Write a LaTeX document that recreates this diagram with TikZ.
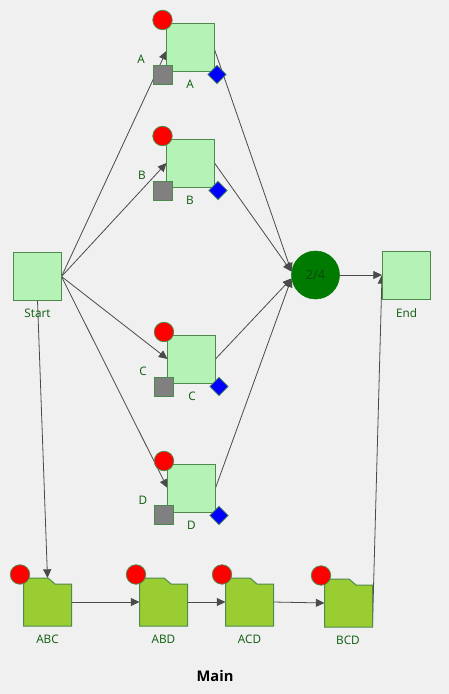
\documentclass[tikz,border=0pt]{standalone}
\usepackage{fontspec}
\setmainfont{Open Sans}
\usetikzlibrary{arrows.meta,calc,shapes.geometric}
\definecolor{bgc}{HTML}{F0F0F0}
\definecolor{boxf}{HTML}{B5F2B5}
\definecolor{bord}{HTML}{4E8A4E}
\definecolor{fold}{HTML}{9ACD32}
\definecolor{txt}{HTML}{0B5C0B}
\definecolor{edgec}{HTML}{4A4A4A}
\definecolor{gatec}{HTML}{007A00}
\definecolor{gatet}{HTML}{0B470B}
\pgfdeclarelayer{edges}
\pgfdeclarelayer{back}
\pgfsetlayers{back,edges,main}
\tikzset{
 task/.style={draw=bord,fill=boxf,line width=0.75pt,minimum size=36pt,inner sep=0pt,outer sep=0pt,rectangle},
 flabel/.style={text=txt,font=\fontsize{8.8pt}{10pt}\selectfont,inner sep=0pt},
 redc/.style={circle,draw=bord,fill=red,line width=0.6pt,minimum size=14.6pt,inner sep=0pt},
 grey/.style={draw=bord,fill=gray,line width=0.6pt,minimum size=14.4pt,inner sep=0pt,rectangle},
 blued/.style={diamond,draw=bord,fill=blue,line width=0.5pt,minimum size=14pt,inner sep=0pt,aspect=1},
 flow/.style={draw=edgec,line width=0.6pt,-{Triangle[length=6.5pt,width=6pt]}},
 folderc/.style={draw=bord,fill=fold,line width=0.75pt},
 anch/.style={minimum size=36pt,inner sep=0pt,outer sep=0pt,rectangle},
}
\newcommand{\folder}[3]{% name, cx, cy (px)
 \node[anch] (#1) at (#2,#3) {};
 \draw[folderc] ($(#1.north west)$) -- ++(24.5,0) -- ++(7,6) -- ($(#1.north east)+(0,-4.5pt)$) -- (#1.south east) -- (#1.south west) -- cycle;
}
\begin{document}
\begin{tikzpicture}[x=0.75pt,y=-0.75pt]
\begin{pgfonlayer}{back}
\fill[bgc] (0,0) rectangle (449,694);
\end{pgfonlayer}
\useasboundingbox (0,0) rectangle (449,694);

\node[task] (S) at (37.5,276.5) {};
\node[task] (E) at (406,275) {};
\node[task] (A) at (190.5,47.5) {};
\node[task] (B) at (190.5,163) {};
\node[task] (C) at (191.5,359) {};
\node[task] (D) at (191.5,488) {};
\node[circle,draw=gatec,fill=gatec,line width=0.4pt,minimum size=36pt,inner sep=0pt,text=gatet,font=\fontsize{9.5pt}{11pt}\selectfont] (G) at (315.5,275) {2/4};

\folder{ABC}{47.5}{602}
\folder{ABD}{163.5}{602}
\folder{ACD}{249.5}{602}
\folder{BCD}{348.5}{603}

\foreach \n/\x/\y in {rA/162.5/20,rB/162.5/136,rC/164/332,rD/164/461,rE/20/574.5,rF/136/574.5,rG/222/574.5,rH/321/575.5}
  \node[redc] (\n) at (\x,\y) {};
\foreach \n/\x/\y in {gA/163/74.5,gB/163/190.5,gC/164/386.5,gD/164/515}
  \node[grey] (\n) at (\x,\y) {};
\node[blued] (dA) at (217,74.5) {};
\node[blued] (dB) at (218,190.5) {};
\node[blued] (dC) at (219,386.5) {};
\node[blued] (dD) at (219,515.5) {};

\node[flabel] (lS) at (37.5,313) {Start};
\node[flabel] (lE) at (406.5,313) {End};
\node[flabel] (lA) at (190,84) {A};
\node[flabel] (lB) at (190,200) {B};
\node[flabel] (lC) at (192,396) {C};
\node[flabel] (lD) at (191.5,525) {D};
\node[flabel] (eA) at (141,59) {A};
\node[flabel] (eB) at (142,175) {B};
\node[flabel] (eC) at (143,371) {C};
\node[flabel] (eD) at (143,500) {D};
\node[flabel] (lABC) at (47.5,639) {ABC};
\node[flabel] (lABD) at (163.5,639) {ABD};
\node[flabel] (lACD) at (249.5,639) {ACD};
\node[flabel] (lBCD) at (348,640) {BCD};
\node[font=\bfseries\fontsize{11pt}{13pt}\selectfont,inner sep=0pt] (title) at (215,676) {Main};

\begin{pgfonlayer}{edges}
\draw[flow] (S.east) -- ([yshift=-2.5pt]A.west);
\draw[flow] (S.east) -- (B.west);
\draw[flow] (S.east) -- (C.west);
\draw[flow] (S.east) -- (D.west);
\draw[flow] ([yshift=-1.5pt]A.east) -- (G.172);
\draw[flow] (B.east) -- (G.172);
\draw[flow] (C.east) -- (G.188);
\draw[flow] (D.east) -- (G.188);
\draw[flow] (G.east) -- (E.west);
\draw[flow] (S.south) -- (ABC.north);
\draw[flow] (ABC.east) -- (ABD.west);
\draw[flow] (ABD.east) -- (ACD.west);
\draw[flow] (ACD.east) -- (BCD.west);
\draw[flow] ([yshift=-16.5pt]BCD.east) -- (E.west);
\end{pgfonlayer}
\end{tikzpicture}
\end{document}
